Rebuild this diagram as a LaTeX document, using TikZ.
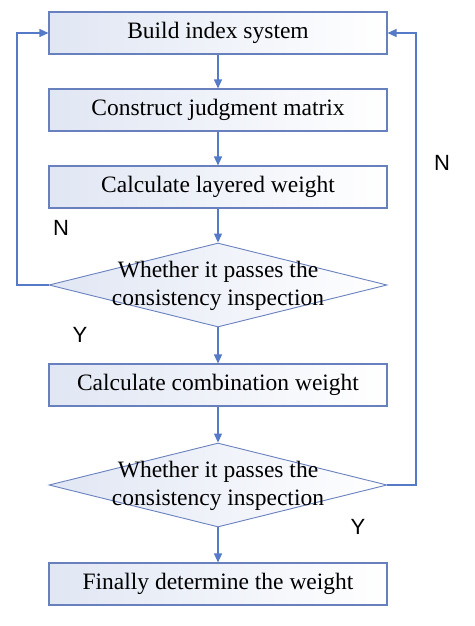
\documentclass[tikz,border=0pt]{standalone}
\usepackage{fontspec}
\setmainfont{Liberation Serif}
\newfontfamily\labfont{Liberation Sans}
\usetikzlibrary{shapes.geometric,arrows.meta}
\definecolor{bordc}{RGB}{105,128,190}
\definecolor{linec}{RGB}{84,122,200}
\definecolor{fillc}{RGB}{224,230,243}
\begin{document}
\begin{tikzpicture}[x=1pt,y=-1pt,
  procbox/.style={draw=bordc,line width=1.1pt,left color=fillc,right color=white,
    minimum width=338pt,minimum height=42pt,inner sep=0pt,
    font=\fontsize{23.5}{28}\selectfont},
  decbox/.style={draw=bordc,line width=0.9pt,diamond,aspect=4,left color=fillc,right color=white,
    inner sep=0pt,minimum width=338pt,minimum height=84pt,align=center,
    font=\fontsize{23.5}{28}\selectfont},
  conn/.style={draw=linec,line width=1.2pt,-{Triangle[length=9pt,width=8pt]}},
  lab/.style={font=\labfont\fontsize{22}{24}\selectfont}]
\useasboundingbox (0,0) rectangle (474,626);
\node[procbox] (b1) at (218,33) {Build index system};
\node[procbox] (b2) at (218,110) {Construct judgment matrix};
\node[procbox] (b3) at (218,187) {Calculate layered weight};
\node[decbox] (d1) at (218,285) {};
\node[font=\fontsize{23.5}{28}\selectfont,align=center] (t1) at (218,286) {Whether it passes the\\consistency inspection};
\node[procbox] (b4) at (218,385) {Calculate combination weight};
\node[decbox] (d2) at (218,485) {};
\node[font=\fontsize{23.5}{28}\selectfont,align=center] (t2) at (218,486) {Whether it passes the\\consistency inspection};
\node[procbox] (b5) at (218,584) {Finally determine the weight};
\coordinate (lc) at (17,285);
\coordinate (lt) at (17,33);
\coordinate (rc) at (416,485);
\coordinate (rt) at (416,33);
\draw[conn] (b1) -- (b2);
\draw[conn] (b2) -- (b3);
\draw[conn] (b3) -- (d1.north);
\draw[conn] (d1.south) -- (b4);
\draw[conn] (b4) -- (d2.north);
\draw[conn] (d2.south) -- (b5);
\draw[conn] (d1.west) -- (lc) -- (lt) -- (b1.west);
\draw[conn] (d2.east) -- (rc) -- (rt) -- (b1.east);
\node[lab] (n1) at (61,228) {N};
\node[lab] (n2) at (442,163) {N};
\node[lab] (y1) at (80,335) {Y};
\node[lab] (y2) at (358,527) {Y};
\end{tikzpicture}
\end{document}
